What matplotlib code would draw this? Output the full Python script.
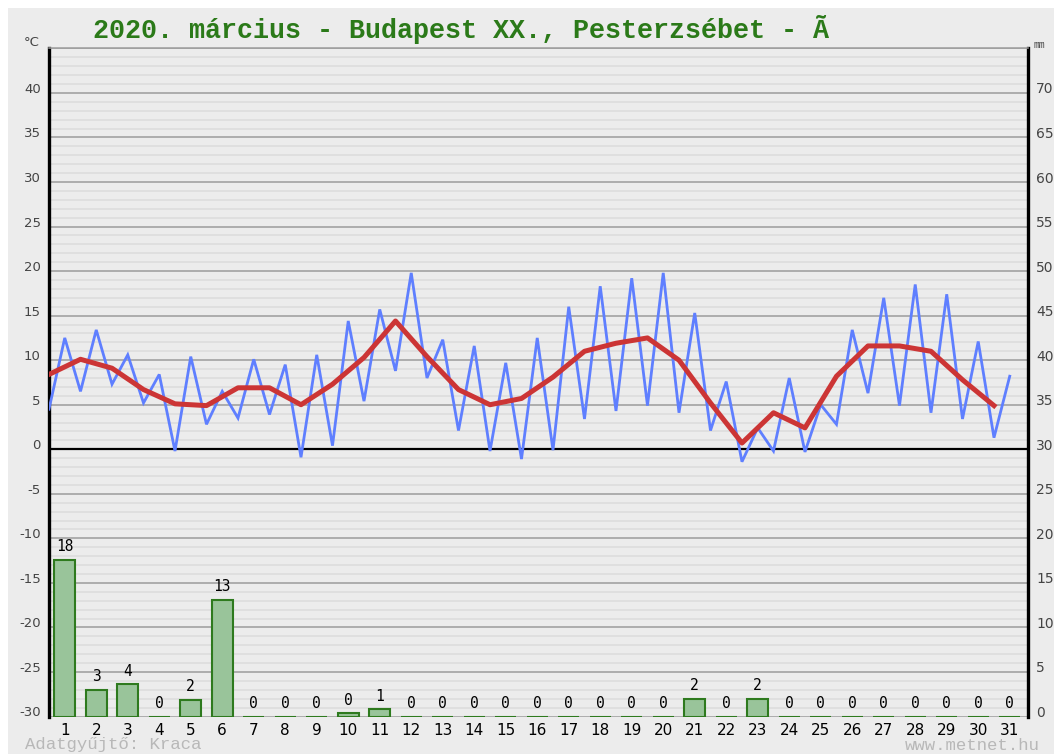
import matplotlib
matplotlib.use("Agg")
import matplotlib.pyplot as plt
import matplotlib.transforms as mtransforms
from matplotlib.patches import Rectangle
import numpy as np

# daily data, March 2020
days = list(range(1, 32))
t_min = [4.5, 6.5, 7.3, 5.2, -0.2, 2.8, 3.5, 3.9, -0.9, 0.4, 5.4, 8.8, 8.0, 2.1, -0.2, -1.1,
         -0.1, 3.4, 4.3, 4.9, 4.1, 2.1, -1.4, -0.2, -0.3, 2.8, 6.3, 4.9, 4.1, 3.4, 1.3]
t_max = [12.5, 13.4, 10.6, 8.4, 10.4, 6.5, 10.1, 9.5, 10.6, 14.4, 15.7, 19.8, 12.3, 11.6, 9.7, 12.5,
         16.0, 18.3, 19.2, 19.8, 15.3, 7.6, 2.4, 8.0, 5.0, 13.4, 17.0, 18.5, 17.4, 12.1, 8.2]
t_mean = [8.4, 10.1, 9.1, 6.7, 5.1, 4.9, 6.9, 6.9, 5.0, 7.3, 10.3, 14.4, 10.4, 6.7, 5.0, 5.7,
          8.1, 11.0, 11.9, 12.5, 10.0, 5.2, 0.7, 4.1, 2.4, 8.2, 11.6, 11.6, 11.0, 7.8, 4.9]
precip = [17.6, 3.0, 3.6, 0, 1.9, 13.1, 0, 0, 0, 0.4, 0.8, 0, 0, 0, 0, 0,
          0, 0, 0, 0, 2.0, 0, 2.0, 0, 0, 0, 0, 0, 0, 0, 0]

title = "2020. március - Budapest XX., Pesterzsébet - Ã"
BG = "#ececec"

fig = plt.figure(figsize=(10.54, 7.54), dpi=100, facecolor="white")
fig.patches.append(Rectangle((8 / 1054, 0), 1, 1 - 8 / 754, transform=fig.transFigure,
                             facecolor=BG, edgecolor="none", zorder=-10))

ax = fig.add_axes([49 / 1054, 1 - 716.5 / 754, (1028 - 49) / 1054, (716.5 - 48.4) / 754])
ax.set_facecolor(BG)
ax.set_xlim(0.5, 31.58)
ax.set_ylim(-30, 45)

# grid: minor every 1 degree, major every 5
for v in range(-30, 46):
    if v == 0:
        ax.axhline(v, color="black", lw=1.6, zorder=2)
    elif v % 5 == 0:
        ax.axhline(v, color="#9c9c9c", lw=1.1, zorder=1)
    else:
        ax.axhline(v, color="#dcdcdc", lw=1.1, zorder=1)

# temperature: min/max interleaved at half-day steps, mean at mid-day
d = np.array(days, dtype=float)
x_mm = np.column_stack([d - 0.5, d]).ravel()
y_mm = np.column_stack([t_min, t_max]).ravel()
ax.plot(x_mm, y_mm, color="#5f7fff", lw=2.0, zorder=4, solid_joinstyle="miter")
ax.plot(d - 0.5, t_mean, color="#cc3535", lw=3.6, zorder=5)

ax.set_yticks(range(-30, 41, 5))
ax.set_yticklabels([str(v) for v in range(-30, 41, 5)])
ax.set_xticks(days)
ax.set_xticklabels([str(v) for v in days])
ax.tick_params(axis="y", length=0, pad=6, labelsize=9.5, labelcolor="#444444")
ax.tick_params(axis="x", length=0, pad=5, labelsize=11, labelcolor="black")

for s in ["left", "right"]:
    ax.spines[s].set_linewidth(2.4)
    ax.spines[s].set_color("black")
ax.spines["top"].set_color("#9c9c9c")
ax.spines["top"].set_linewidth(1.1)
ax.spines["bottom"].set_visible(False)

# precipitation on the right-hand mm axis
ax2 = ax.twinx()
ax2.set_ylim(0, 75)
ax2.set_xlim(0.5, 31.58)
ax2.bar(days, precip, width=0.66, color="#99c49a", edgecolor="#2e7a1e", linewidth=1.5, zorder=3)
for day, val in zip(days, precip):
    ax2.text(day, val + 0.6, f"{round(val)}", ha="center", va="bottom", fontsize=10.5,
             family="DejaVu Sans Mono", color="black")
ax2.set_yticks(range(0, 71, 5))
ax2.set_yticklabels([str(v) for v in range(0, 71, 5)])
ax2.tick_params(axis="y", length=0, pad=6, labelsize=10, labelcolor="#444444")
for s in ax2.spines.values():
    s.set_visible(False)

# labels sit slightly above their grid lines
shift = mtransforms.ScaledTranslation(0, 0.05, fig.dpi_scale_trans)
for lab in ax.get_yticklabels() + ax2.get_yticklabels():
    lab.set_transform(lab.get_transform() + shift)

fig.text(40 / 1054, 1 - 43 / 754, "°C", fontsize=9.5, color="#444444", ha="right", va="center")
fig.text(1034 / 1054, 1 - 45 / 754, "mm", fontsize=7, color="#444444", ha="left", va="center",
         family="Liberation Mono")
fig.text(461 / 1054, 1 - 30 / 754, title, fontsize=19.3, fontweight="bold", color="#2b7a19",
         family="Liberation Mono", ha="center", va="center")
fig.text(25 / 1054, 1 - 745 / 754, "Adatgyűjtő: Kraca", fontsize=12.5, color="#b8b8b8",
         family="Liberation Mono", ha="left", va="center")
fig.text(1040 / 1054, 1 - 745 / 754, "www.metnet.hu", fontsize=12.5, color="#b8b8b8",
         family="Liberation Mono", ha="right", va="center")

fig.savefig("out.png", dpi=100, facecolor="white")
